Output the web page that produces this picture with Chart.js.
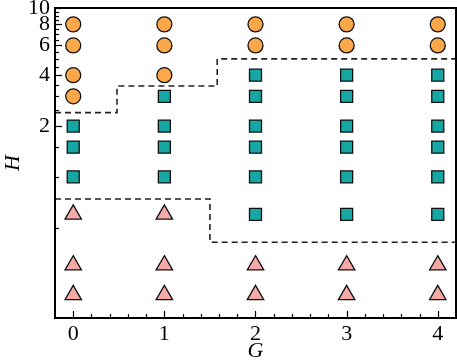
<!DOCTYPE html>
<html>
<head>
<meta charset="utf-8">
<script src="https://cdn.jsdelivr.net/npm/chart.js@4"></script>
<style>
    html, body { margin: 0; padding: 0; background: #fff; }
    #wrap { width: 457px; height: 360px; }
</style>
</head>
<body>
<div id="wrap"><canvas id="chart"></canvas></div>
<script>
// Phase diagram data (G on x, H on log y)
const gValues = [0, 1, 2, 3, 4];
const circleH = [[8, 6, 4, 3], [8, 6, 4], [8, 6], [8, 6], [8, 6]];
const squareH = [[2, 1.5, 1], [3, 2, 1.5, 1], [4, 3, 2, 1.5, 1, 0.6], [4, 3, 2, 1.5, 1, 0.6], [4, 3, 2, 1.5, 1, 0.6]];
const triangleH = [[0.6, 0.3, 0.2], [0.6, 0.3, 0.2], [0.3, 0.2], [0.3, 0.2], [0.3, 0.2]];

// Boundary lines between phases
const upperBoundG = [-0.2, 0.48, 0.48, 1.58, 1.58, 4.2];
const upperBoundH = [2.4, 2.4, 3.45, 3.45, 5, 5];
const lowerBoundG = [-0.2, 1.5, 1.5, 4.2];
const lowerBoundH = [0.74, 0.74, 0.41, 0.41];

// Axis ticks
const xTicks = [0, 1, 2, 3, 4];
const yTicks = [2, 4, 6, 8, 10];
const xMinorStep = 0.2;
const yMinorStep = 0.5;

const toPoints = (cols) => cols.flatMap((hs, i) => hs.map(h => ({ x: gValues[i], y: h })));
const zip = (xs, ys) => xs.map((x, i) => ({ x: x, y: ys[i] }));

// Frame and inward tick marks
const framePlugin = {
    id: 'frame',
    afterDraw(chart) {
        const { ctx, chartArea: a, scales } = chart;
        ctx.save();
        ctx.strokeStyle = '#000';
        ctx.lineWidth = 1.2;
        // x ticks
        for (let v = 0; v <= 4.2001; v += xMinorStep) {
            const major = Math.abs(v - Math.round(v)) < 1e-6;
            const px = Math.round(scales.x.getPixelForValue(v)) + 0.5;
            ctx.beginPath();
            ctx.moveTo(px, a.bottom);
            ctx.lineTo(px, a.bottom - (major ? 7 : 4));
            ctx.stroke();
        }
        // y ticks
        for (let v = 0.5; v <= 10.001; v += yMinorStep) {
            const major = yTicks.some(t => Math.abs(t - v) < 1e-6);
            const py = Math.round(scales.y.getPixelForValue(v)) + 0.5;
            ctx.beginPath();
            ctx.moveTo(a.left, py);
            ctx.lineTo(a.left + (major ? 7 : 4), py);
            ctx.stroke();
        }
        ctx.lineWidth = 2;
        ctx.strokeRect(a.left, a.top, a.right - a.left, a.bottom - a.top);
        ctx.restore();
    }
};

document.addEventListener('DOMContentLoaded', () => {
    const ctx = document.getElementById('chart').getContext('2d');
    const serif = 'Liberation Serif';

    new Chart(ctx, {
        type: 'scatter',
        data: {
            datasets: [
                {
                    label: 'upper',
                    type: 'line',
                    data: zip(upperBoundG, upperBoundH),
                    borderColor: '#222',
                    borderWidth: 1.6,
                    borderDash: [6, 4],
                    pointRadius: 0,
                    fill: false
                },
                {
                    label: 'lower',
                    type: 'line',
                    data: zip(lowerBoundG, lowerBoundH),
                    borderColor: '#222',
                    borderWidth: 1.6,
                    borderDash: [6, 4],
                    pointRadius: 0,
                    fill: false
                },
                {
                    label: 'circle',
                    data: toPoints(circleH),
                    pointStyle: 'circle',
                    pointRadius: 7.5,
                    backgroundColor: '#fca84a',
                    borderColor: '#111',
                    borderWidth: 1.3
                },
                {
                    label: 'square',
                    data: toPoints(squareH),
                    pointStyle: 'rect',
                    pointRadius: 8.5,
                    backgroundColor: '#16a6a4',
                    borderColor: '#111',
                    borderWidth: 1.3
                },
                {
                    label: 'triangle',
                    data: toPoints(triangleH),
                    pointStyle: 'triangle',
                    pointRadius: 9.5,
                    backgroundColor: '#f5aaa8',
                    borderColor: '#111',
                    borderWidth: 1.3
                }
            ]
        },
        options: {
            responsive: true,
            maintainAspectRatio: false,
            animation: false,
            layout: { autoPadding: false, padding: { top: 8, right: 1, left: 0, bottom: 0 } },
            plugins: {
                legend: { display: false },
                tooltip: { enabled: false }
            },
            scales: {
                x: {
                    type: 'linear',
                    min: -0.2,
                    max: 4.2,
                    afterBuildTicks: (scale) => { scale.ticks = xTicks.map(v => ({ value: v })); },
                    afterFit: (scale) => {
                        scale.height = 42;
                        scale.paddingLeft = 0;
                        scale.paddingRight = 0;
                    },
                    grid: { display: false, drawTicks: false },
                    border: { display: true, color: '#000', width: 2 },
                    ticks: { color: '#000', padding: 3, font: { family: serif, size: 22 } },
                    title: {
                        display: true,
                        text: 'G',
                        color: '#000',
                        padding: { top: 0, bottom: -4 },
                        font: { family: serif, size: 22, style: 'italic' }
                    }
                },
                y: {
                    type: 'logarithmic',
                    min: 0.146,
                    max: 10,
                    afterBuildTicks: (scale) => { scale.ticks = yTicks.map(v => ({ value: v })); },
                    afterFit: (scale) => {
                        scale.width = 55;
                        scale.paddingTop = 0;
                        scale.paddingBottom = 0;
                    },
                    grid: { display: false, drawTicks: false },
                    border: { display: true, color: '#000', width: 2 },
                    ticks: {
                        color: '#000',
                        padding: 5,
                        font: { family: serif, size: 22 },
                        callback: (v) => String(v)
                    },
                    title: {
                        display: true,
                        text: 'H',
                        color: '#000',
                        padding: 0,
                        font: { family: serif, size: 22, style: 'italic' }
                    }
                }
            }
        },
        plugins: [framePlugin]
    });
});
</script>
</body>
</html>
